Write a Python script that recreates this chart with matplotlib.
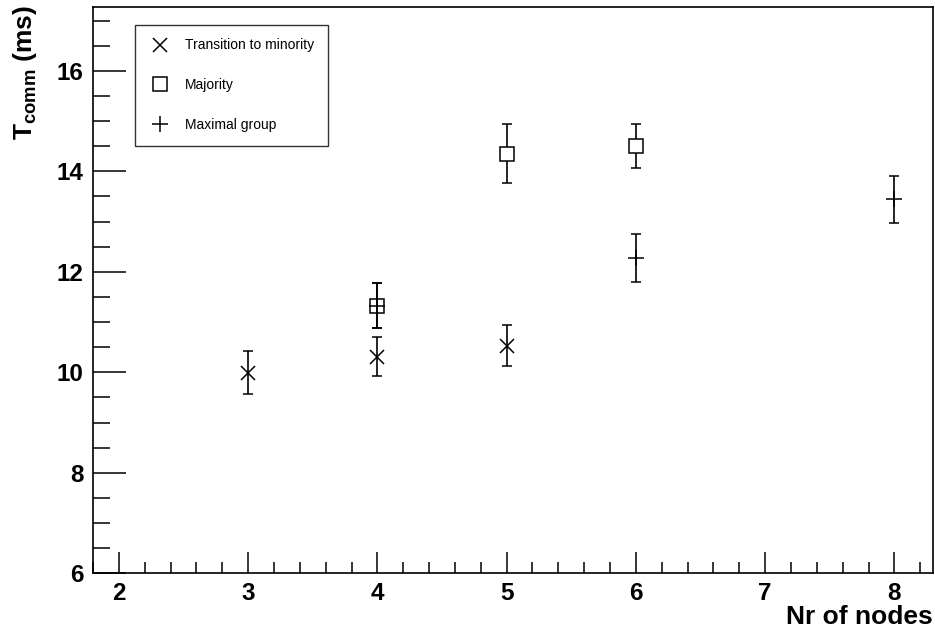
import matplotlib
matplotlib.use("Agg")
import matplotlib.pyplot as plt
from matplotlib.ticker import MultipleLocator
from matplotlib.lines import Line2D

plt.rcParams['font.family'] = ['Liberation Sans', 'DejaVu Sans']
plt.rcParams['mathtext.fontset'] = 'custom'
plt.rcParams['mathtext.rm'] = 'Liberation Sans:bold'
plt.rcParams['mathtext.it'] = 'Liberation Sans:bold'
plt.rcParams['mathtext.bf'] = 'Liberation Sans:bold'
plt.rcParams['mathtext.default'] = 'regular'

# данные: число узлов, среднее время, ошибка
minority_x = [3, 4, 5]
minority_y = [9.99, 10.31, 10.53]
minority_err = [0.43, 0.39, 0.41]

majority_x = [4, 5, 6]
majority_y = [11.33, 14.35, 14.51]
majority_err = [0.44, 0.59, 0.44]

maximal_x = [4, 6, 8]
maximal_y = [11.33, 12.28, 13.44]
maximal_err = [0.44, 0.48, 0.47]

labels = ['Transition to minority', 'Majority', 'Maximal group']

fig = plt.figure(figsize=(9.35, 6.35), dpi=100)
ax = fig.add_axes([0.0995, 0.097, 0.8985, 0.892])

common = dict(color='black', ecolor='black', elinewidth=1.2, capsize=3.5,
              capthick=1.2, linestyle='none', markeredgewidth=1.1)

ax.errorbar(minority_x, minority_y, yerr=minority_err, marker='x',
            markersize=10, label=labels[0], **common)
ax.errorbar(majority_x, majority_y, yerr=majority_err, marker='s',
            markersize=10, markerfacecolor='white', label=labels[1],
            zorder=3, **common)
ax.errorbar(maximal_x, maximal_y, yerr=maximal_err, marker='+',
            markersize=12, label=labels[2], zorder=4, **common)

ax.set_xlim(1.8, 8.3)
ax.set_ylim(6, 17.27)

ax.xaxis.set_major_locator(MultipleLocator(1))
ax.xaxis.set_minor_locator(MultipleLocator(0.2))
ax.yaxis.set_major_locator(MultipleLocator(2))
ax.yaxis.set_minor_locator(MultipleLocator(0.5))

ax.tick_params(which='both', direction='in', top=False, right=False,
               width=1.1, labelsize=17.5)
ax.tick_params(axis='x', which='major', length=15, pad=6)
ax.tick_params(axis='x', which='minor', length=8)
ax.tick_params(axis='y', which='major', length=24, pad=7)
ax.tick_params(axis='y', which='minor', length=12)
for lab in ax.get_xticklabels() + ax.get_yticklabels():
    lab.set_fontweight('bold')

for sp in ax.spines.values():
    sp.set_linewidth(1.2)

fig.text(0.998, 0.018, 'Nr of nodes', ha='right', va='baseline',
         fontsize=19, fontweight='bold')
fig.text(0.027, 0.992, '$T_{comm}$ (ms)', ha='center', va='top',
         rotation=90, fontsize=19, fontweight='bold')

# легенда без полос ошибок
handles = [
    Line2D([], [], color='black', marker='x', linestyle='none', markersize=10, markeredgewidth=1.1),
    Line2D([], [], color='black', marker='s', markerfacecolor='white', linestyle='none', markersize=10, markeredgewidth=1.1),
    Line2D([], [], color='black', marker='+', linestyle='none', markersize=12, markeredgewidth=1.1),
]
leg = ax.legend(handles, labels, loc='upper left', bbox_to_anchor=(0.05, 0.969),
                fontsize=10, frameon=True, fancybox=False, edgecolor='black',
                labelspacing=1.85, borderpad=1.0, handletextpad=1.0,
                handlelength=1.6, borderaxespad=0)
leg.get_frame().set_linewidth(1.0)

fig.savefig('out.png', dpi=100)
